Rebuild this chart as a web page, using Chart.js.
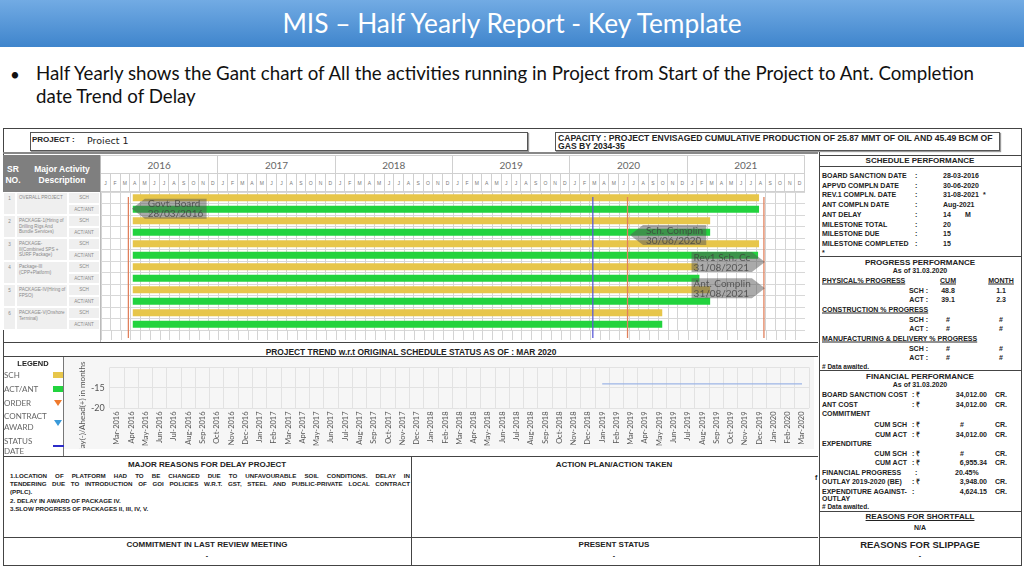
<!DOCTYPE html>
<html>
<head>
<meta charset="utf-8">
<script src="https://cdn.jsdelivr.net/npm/chart.js@4.4.0/dist/chart.umd.min.js"></script>
<style>
body { margin: 0; width: 1024px; height: 568px; overflow: hidden; background: #fff; font-family: "Liberation Sans", Arial, sans-serif; }
#page { position: relative; width: 1024px; height: 568px; }
.abs { position: absolute; box-sizing: border-box; }
.t { position: absolute; white-space: nowrap; line-height: 1; color: #222; }
.b7 { font-weight: bold; font-size: 7px; }
.b65 { font-weight: bold; font-size: 6.5px; }
.b8 { font-weight: bold; font-size: 8px; }
.u { text-decoration: underline; }
.ln { position: absolute; background: #444; }
#title { left: 0; top: 0; width: 1024px; height: 47px; background: linear-gradient(#72abe4, #3f85cc); color: #fff; font: 26.3px Lato, sans-serif; text-align: center; line-height: 47px; }
#bullet { left: 36px; top: 62px; width: 960px; font: 18.7px Lato, sans-serif; color: #111; line-height: 23px; }
.yr { position: absolute; top: 155px; height: 19px; border: 1px solid #d0d0d0; border-left: none; box-sizing: border-box; font: 10px Lato, sans-serif; color: #666; text-align: center; line-height: 18px; }
.mo { position: absolute; top: 174px; height: 18px; border-right: 1px solid #d0d0d0; border-bottom: 1px solid #d0d0d0; box-sizing: border-box; font: 5px "Liberation Sans", sans-serif; color: #777; text-align: center; line-height: 18px; }
.cell { position: absolute; background: #efefef; border: 1px solid #fff; box-sizing: border-box; color: #888; font-size: 4.6px; line-height: 5.6px; overflow: hidden; }
.lg { position: absolute; left: 4px; font: 8px Lato, sans-serif; color: #666; line-height: 1; transform: translateY(-50%); }
#ytitle { position: absolute; left: 0; top: 0; width: 88px; text-align: center; font: 8px Lato, sans-serif; color: #555; white-space: nowrap; line-height: 1; transform-origin: 0 0; }
</style>
</head>
<body>
<div id="page">
  <div id="title" class="abs">MIS – Half Yearly Report - Key Template</div>
  <div class="t" style="left:10px;top:74px;transform:translateY(-50%);font:17px Lato;color:#111;">•</div>
  <div id="bullet" class="abs">Half Yearly shows the Gant chart of All the activities running in Project from Start of the Project to Ant. Completion date Trend of Delay</div>

  <!-- report frame -->
  <div class="abs" style="left:3px;top:128px;width:1019px;height:438px;border:1px solid #444;"></div>
  <div class="abs" style="left:30px;top:132px;width:498px;height:19px;border:1px solid #555;box-shadow:1px 1px 1px #999;"></div>
  <div class="abs" style="left:555px;top:132px;width:445px;height:19px;border:1px solid #555;box-shadow:1px 1px 1px #999;"></div>
  <div class="ln" style="left:3px;top:152px;width:815px;height:2px;background:#888;"></div>

  <!-- gantt header -->
  <div class="abs" style="left:3px;top:155px;width:97px;height:37px;background:#7f7f7f;"></div>
  <div class="t" style="left:13px;top:169px;transform:translate(-50%,-50%);color:#fff;font-weight:bold;font-size:8.5px;">SR</div>
  <div class="t" style="left:13px;top:180px;transform:translate(-50%,-50%);color:#fff;font-weight:bold;font-size:8.5px;">NO.</div>
  <div class="t" style="left:62px;top:169px;transform:translate(-50%,-50%);color:#fff;font-weight:bold;font-size:8.5px;">Major Activity</div>
  <div class="t" style="left:62px;top:180px;transform:translate(-50%,-50%);color:#fff;font-weight:bold;font-size:8.5px;">Description</div>
  <div id="hdr"></div>
  <div id="rows"></div>

  <div class="abs" style="left:101px;top:192px;width:704px;height:148px;">
    <canvas id="gantt"></canvas>
  </div>
  <div class="ln" style="left:100px;top:155px;width:1px;height:187px;background:#bbb;"></div>

  <!-- trend -->
  <div class="ln" style="left:3px;top:342px;width:815px;height:1px;"></div>
  <div class="ln" style="left:3px;top:356px;width:815px;height:1px;"></div>
  <div class="abs" style="left:63px;top:357px;width:751px;height:92px;background:#f6f6f6;overflow:hidden;">
    <canvas id="trend"></canvas>
    <div id="ytitle">Delay(-)/Ahead(+) in months</div>
  </div>
  <div class="ln" style="left:63px;top:357px;width:1px;height:99px;background:#777;"></div>
  <div class="ln" style="left:3px;top:456px;width:815px;height:1px;"></div>

  <!-- legend -->
  <div class="t b7" style="left:33px;top:364px;transform:translate(-50%,-50%);font-size:7.5px;">LEGEND</div>
  <div class="lg" style="top:375px;">SCH</div>
  <div class="abs" style="left:53px;top:372px;width:10px;height:6px;background:#e7c64a;"></div>
  <div class="lg" style="top:389px;">ACT/ANT</div>
  <div class="abs" style="left:53px;top:386px;width:10px;height:6px;background:#22d33e;"></div>
  <div class="lg" style="top:403px;">ORDER</div>
  <div class="abs" style="left:54px;top:400px;width:0;height:0;border-left:4px solid transparent;border-right:4px solid transparent;border-top:6px solid #ef7a2c;"></div>
  <div class="lg" style="top:416px;">CONTRACT</div>
  <div class="lg" style="top:427px;">AWARD</div>
  <div class="abs" style="left:54px;top:420px;width:0;height:0;border-left:4px solid transparent;border-right:4px solid transparent;border-top:6px solid #3a9ad9;"></div>
  <div class="lg" style="top:441px;">STATUS</div>
  <div class="lg" style="top:451px;">DATE</div>
  <div class="abs" style="left:53px;top:445px;width:11px;height:2px;background:#2c2cc8;"></div>

  <!-- bottom -->
  <div class="ln" style="left:411px;top:456px;width:1px;height:110px;"></div>
  <div class="ln" style="left:3px;top:537px;width:815px;height:1px;"></div>
  <div id="reasons" class="abs" style="left:10px;top:472px;width:400px;font-weight:bold;font-size:6.2px;line-height:8.2px;color:#222;"></div>

  <!-- right panel -->
  <div class="ln" style="left:819px;top:152px;width:1px;height:414px;"></div>
  <div class="abs" style="left:819px;top:155px;width:203px;height:12px;border:1px solid #444;"></div>
  <div class="ln" style="left:819px;top:256px;width:203px;height:1px;"></div>
  <div class="ln" style="left:819px;top:370px;width:203px;height:1px;"></div>
  <div class="ln" style="left:819px;top:511px;width:203px;height:1px;"></div>
  <div class="ln" style="left:819px;top:537px;width:203px;height:1px;"></div>
</div>

<script>
// ---- chart data ----
const years = ['2016', '2017', '2018', '2019', '2020', '2021'];
const monthLetters = ['J', 'F', 'M', 'A', 'M', 'J', 'J', 'A', 'S', 'O', 'N', 'D'];
const packages = ['OVERALL PROJECT', 'PACKAGE-1(Hiring of Drilling Rigs And Bundle Services)',
  'PACKAGE-II(Combined SPS + SURF Package)', 'Package-III (CPP+Platform)',
  'PACKAGE-IV(Hiring of FPSO)', 'PACKAGE-V(Onshore Terminal)'];
// month index counted from Jan 2016 = 0
const schStart = [3.25, 3.25, 3.25, 3.25, 3.25, 3.25];
const schEnd = [67.3, 62.3, 67.3, 61.0, 62.3, 57.4];
const actStart = [3.25, 3.25, 3.25, 3.25, 3.25, 3.25];
const actEnd = [67.3, 62.3, 67.2, 61.2, 62.3, 57.4];
const markerMonths = [2.8, 50.3, 53.85, 67.8];
const markerColors = ['#e0805c', '#5b5bd8', '#e0805c', '#e0805c'];
const calloutText = [['Govt. Board', '28/03/2016'], ['Sch. Complin', '30/06/2020'], ['Rev1 Sch. Cc', '31/08/2021'], ['Ant. Complin', '31/08/2021']];
const calloutTip = [3.15, 54.1, 67.9, 67.9];
const calloutTail = [10.8, 61.9, 60.4, 60.4];
const calloutRow = [0.95, 3.24, 5.59, 7.87];

const trendLabels = ['Mar-2016', 'Apr-2016', 'May-2016', 'Jun-2016', 'Jul-2016', 'Aug-2016', 'Sep-2016', 'Oct-2016', 'Nov-2016', 'Dec-2016',
  'Jan-2017', 'Feb-2017', 'Mar-2017', 'Apr-2017', 'May-2017', 'Jun-2017', 'Jul-2017', 'Aug-2017', 'Sep-2017', 'Oct-2017', 'Nov-2017', 'Dec-2017',
  'Jan-2018', 'Feb-2018', 'Mar-2018', 'Apr-2018', 'May-2018', 'Jun-2018', 'Jul-2018', 'Aug-2018', 'Sep-2018', 'Oct-2018', 'Nov-2018', 'Dec-2018',
  'Jan-2019', 'Feb-2019', 'Mar-2019', 'Apr-2019', 'May-2019', 'Jun-2019', 'Jul-2019', 'Aug-2019', 'Sep-2019', 'Oct-2019', 'Nov-2019', 'Dec-2019',
  'Jan-2020', 'Feb-2020', 'Mar-2020'];
const trendDelay = [null, null, null, null, null, null, null, null, null, null,
  null, null, null, null, null, null, null, null, null, null, null, null,
  null, null, null, null, null, null, null, null, null, null, null, null,
  -14, -14, -14, -14, -14, -14, -14, -14, -14, -14, -14, -14,
  -14, -14, -14];
const trendTicks = [-20, -15];

const page = document.getElementById('page');
function put(x, y, s, cls, al) {
  const d = document.createElement('div');
  d.className = 't ' + (cls || '');
  d.textContent = s;
  d.style.left = x + 'px';
  d.style.top = y + 'px';
  d.style.transform = 'translate(' + (al === 'c' ? '-50%' : al === 'r' ? '-100%' : '0') + ',-50%)';
  page.appendChild(d);
  return d;
}

// year / month header
const hdr = document.getElementById('hdr');
const gx = 101, gw = 704, mw = gw / 72;
years.forEach((y, i) => {
  const d = document.createElement('div');
  d.className = 'yr';
  d.style.left = (gx + i * mw * 12) + 'px';
  d.style.width = (mw * 12) + 'px';
  d.textContent = y;
  hdr.appendChild(d);
  monthLetters.forEach((m, j) => {
    const c = document.createElement('div');
    c.className = 'mo';
    c.style.left = (gx + (i * 12 + j) * mw) + 'px';
    c.style.width = mw + 'px';
    c.textContent = m;
    hdr.appendChild(c);
  });
});

// left activity table
const rowsEl = document.getElementById('rows');
const rowH = 11.5;
packages.forEach((p, i) => {
  const top = 192 + i * rowH * 2;
  const mk = (l, t, w, h, txt, extra) => {
    const c = document.createElement('div');
    c.className = 'cell';
    c.style.cssText += `left:${l}px;top:${t}px;width:${w}px;height:${h}px;` + (extra || '');
    c.textContent = txt;
    rowsEl.appendChild(c);
  };
  mk(3, top, 13, rowH * 2, String(i + 1), 'text-align:center;padding-top:3px;');
  mk(16, top, 52, rowH * 2, p, 'padding:2px 1px 0 2px;');
  mk(68, top, 32, rowH, 'SCH', 'text-align:center;line-height:10px;');
  mk(68, top + rowH, 32, rowH, 'ACT/ANT', 'text-align:center;line-height:10px;');
});

// gantt chart
const rowLabels = [], schBars = [], actBars = [];
packages.forEach((p, i) => {
  rowLabels.push((i + 1) + ' SCH', (i + 1) + ' ACT/ANT');
  schBars.push([schStart[i], schEnd[i]], null);
  actBars.push(null, [actStart[i], actEnd[i]]);
});

const ganttMarks = {
  id: 'ganttMarks',
  beforeDatasetsDraw(chart) {
    const { ctx, chartArea, scales: { x } } = chart;
    ctx.save();
    ctx.strokeStyle = '#d4d4d4';
    ctx.lineWidth = 1;
    for (let m = 0; m <= 72; m++) {
      const px = Math.round(x.getPixelForValue(m)) + 0.5;
      ctx.beginPath();
      ctx.moveTo(px, chartArea.bottom);
      ctx.lineTo(px, chart.height);
      ctx.stroke();
    }
    ctx.restore();
  },
  afterDatasetsDraw(chart) {
    const { ctx, chartArea, scales: { x, y } } = chart;
    ctx.save();
    markerMonths.forEach((m, i) => {
      const px = x.getPixelForValue(m);
      ctx.strokeStyle = markerColors[i];
      ctx.lineWidth = 1.3;
      ctx.beginPath();
      ctx.moveTo(px, chartArea.top + 5);
      ctx.lineTo(px, chart.height - 2);
      ctx.stroke();
    });
    calloutText.forEach((lines, i) => {
      const xt = x.getPixelForValue(calloutTip[i]);
      const xb = x.getPixelForValue(calloutTail[i]);
      const yc = y.getPixelForValue(calloutRow[i]);
      const h = 20, dir = Math.sign(xb - xt), head = 13 * dir;
      ctx.fillStyle = 'rgba(85,85,85,0.5)';
      ctx.beginPath();
      ctx.moveTo(xt, yc);
      ctx.lineTo(xt + head, yc - h / 2);
      ctx.lineTo(xb, yc - h / 2);
      ctx.lineTo(xb, yc + h / 2);
      ctx.lineTo(xt + head, yc + h / 2);
      ctx.closePath();
      ctx.fill();
      ctx.fillStyle = 'rgba(60,60,60,0.75)';
      ctx.font = '10px Lato';
      ctx.textBaseline = 'middle';
      const tx = dir > 0 ? xt + 16 : xb + 2;
      ctx.fillText(lines[0], tx, yc - 4.5);
      ctx.fillText(lines[1], tx, yc + 5.5);
    });
    ctx.restore();
  }
};

new Chart(document.getElementById('gantt').getContext('2d'), {
  type: 'bar',
  data: {
    labels: rowLabels,
    datasets: [
      { label: 'SCH', data: schBars, backgroundColor: '#e7c64a', grouped: false, barPercentage: 0.62, categoryPercentage: 1 },
      { label: 'ACT/ANT', data: actBars, backgroundColor: '#22d33e', grouped: false, barPercentage: 0.62, categoryPercentage: 1 }
    ]
  },
  options: {
    indexAxis: 'y',
    responsive: true,
    maintainAspectRatio: false,
    animation: false,
    layout: { padding: { bottom: 10 } },
    plugins: { legend: { display: false }, tooltip: { enabled: false } },
    scales: {
      x: {
        type: 'linear', min: 0, max: 72,
        ticks: { display: false, stepSize: 1, maxTicksLimit: 100 },
        grid: { color: '#d4d4d4', drawTicks: false },
        border: { display: false }
      },
      y: {
        ticks: { display: false },
        grid: { color: '#d8d8d8', drawTicks: false, offset: true },
        border: { display: false }
      }
    }
  },
  plugins: [ganttMarks]
});

// trend chart
const trendChart = new Chart(document.getElementById('trend').getContext('2d'), {
  type: 'line',
  data: {
    labels: trendLabels,
    datasets: [{ label: 'Delay', data: trendDelay, borderColor: '#9db5e6', borderWidth: 1.2, pointRadius: 0, fill: false }]
  },
  options: {
    responsive: true,
    maintainAspectRatio: false,
    animation: false,
    layout: { padding: { top: 7, left: 23, right: 0, bottom: 0 } },
    plugins: { legend: { display: false }, tooltip: { enabled: false } },
    scales: {
      x: {
        offset: true,
        ticks: { autoSkip: false, maxRotation: 90, minRotation: 90, font: { family: 'Lato', size: 7.5 }, color: '#555', padding: 3 },
        grid: { color: '#e2e2e2', offset: true, drawTicks: false },
        border: { display: false }
      },
      y: {
        min: -20, max: -10,
        afterBuildTicks: s => { s.ticks = [-20, -15, -10].map(v => ({ value: v })); },
        ticks: { callback: v => trendTicks.includes(v) ? String(v) : '', font: { family: 'Lato', size: 9 }, color: '#555', padding: 5 },
        grid: { color: '#e2e2e2', drawTicks: false },
        border: { display: false }
      }
    }
  }
});
// axis title, placed beside the y scale and clipped by the plot box like the original
const yt = document.getElementById('ytitle');
const ya = trendChart.scales.y;
yt.style.transform = `translate(${ya.left - 8}px, ${trendChart.chartArea.bottom + 52}px) rotate(-90deg)`;

// texts of the report
put(32, 140, 'PROJECT :', 'b8');
put(87, 140, 'Proiect 1', '').style.cssText += 'font:9.5px "DejaVu Sans";color:#222;';
put(558, 138.3, 'CAPACITY : PROJECT ENVISAGED CUMULATIVE PRODUCTION OF 25.87 MMT OF OIL AND 45.49 BCM OF', 'b8').style.fontSize = '8.6px';
put(558, 145.6, 'GAS BY 2034-35', 'b8').style.fontSize = '8.6px';
put(411, 351.5, 'PROJECT TREND w.r.t ORIGINAL SCHEDULE STATUS AS OF : MAR 2020', 'b8', 'c').style.fontSize = '8.4px';

put(207, 465, 'MAJOR REASONS FOR DELAY PROJECT', 'b8', 'c');
put(614, 465, 'ACTION PLAN/ACTION TAKEN', 'b8', 'c');
put(815, 477, 'f', 'b7');
put(207, 545, 'COMMITMENT IN LAST REVIEW MEETING', 'b8', 'c');
put(207, 554.5, '-', 'b7', 'c');
put(614, 545, 'PRESENT STATUS', 'b8', 'c');
put(614, 554.5, '-', 'b7', 'c');
const reasonLines = ['1.LOCATION OF PLATFORM HAD TO BE CHANGED DUE TO UNFAVOURABLE SOIL CONDITIONS. DELAY IN',
  'TENDERING DUE TO INTRODUCTION OF GOI POLICIES W.R.T. GST, STEEL AND PUBLIC-PRIVATE LOCAL CONTRACT',
  '(PPLC).', '2. DELAY IN AWARD OF PACKAGE IV.', '3.SLOW PROGRESS OF PACKAGES II, III, IV, V.'];
const reasons = document.getElementById('reasons');
reasonLines.forEach((l, i) => {
  const d = document.createElement('div');
  d.textContent = l;
  d.style.whiteSpace = 'nowrap';
  if (i < 2) { d.style.textAlign = 'justify'; d.style.textAlignLast = 'justify'; d.style.whiteSpace = 'normal'; }
  reasons.appendChild(d);
});

// schedule performance
put(920, 161, 'SCHEDULE PERFORMANCE', 'b8', 'c');
const sched = [['BOARD SANCTION DATE', '28-03-2016'], ['APPVD COMPLN DATE', '30-06-2020'], ['REV.1 COMPLN. DATE', '31-08-2021'],
  ['ANT COMPLN DATE', 'Aug-2021'], ['ANT DELAY', '14'], ['MILESTONE TOTAL', '20'], ['MILESTONE DUE', '15'], ['MILESTONE COMPLETED', '15']];
const schedY = [175, 184.7, 194.2, 204, 213.7, 223.5, 233.2, 243];
sched.forEach((r, i) => {
  put(822, schedY[i], r[0], 'b7');
  put(915, schedY[i], ':', 'b7');
  put(943, schedY[i], r[1], 'b7');
});
put(983, 194, '*', 'b7');
put(965, 213.7, 'M', 'b7');
put(822, 252, '*', 'b7');

put(920, 263, 'PROGRESS PERFORMANCE', 'b8', 'c');
put(920, 270, 'As of 31.03.2020', 'b7', 'c');
put(822, 280, 'PHYSICAL% PROGRESS', 'b7 u');
put(948, 280, 'CUM', 'b7 u', 'c');
put(1001, 280, 'MONTH', 'b7 u', 'c');
const prog = [[289.5, '48.8', '1.1', 'SCH :'], [299, '39.1', '2.3', 'ACT :'], [318.5, '#', '#', 'SCH :'], [328, '#', '#', 'ACT :'],
  [347.5, '#', '#', 'SCH :'], [357, '#', '#', 'ACT :']];
prog.forEach(r => {
  put(928, r[0], r[3], 'b7', 'r');
  put(948, r[0], r[1], 'b7', 'c');
  put(1001, r[0], r[2], 'b7', 'c');
});
put(822, 309, 'CONSTRUCTION % PROGRESS', 'b7 u');
put(822, 338, 'MANUFACTURING & DELIVERY % PROGRESS', 'b7 u');
put(822, 366.5, '# Data awaited.', 'b65');

// financial performance
put(920, 377, 'FINANCIAL PERFORMANCE', 'b8', 'c');
put(920, 384, 'As of 31.03.2020', 'b7', 'c');
const fin = [
  [394, 'BOARD SANCTION COST', 'l', ': ₹', '34,012.00', 'CR.'],
  [404, 'ANT COST', 'l', ': ₹', '34,012.00', 'CR.'],
  [412.5, 'COMMITMENT', 'l', '', '', ''],
  [423.5, 'CUM SCH', 'r', ': ₹', '#', 'CR.'],
  [433.5, 'CUM ACT', 'r', ': ₹', '34,012.00', 'CR.'],
  [443, 'EXPENDITURE', 'l', '', '', ''],
  [452.5, 'CUM SCH', 'r', ': ₹', '#', 'CR.'],
  [462, 'CUM ACT', 'r', ': ₹', '6,955.34', 'CR.'],
  [481, 'OUTLAY 2019-2020 (BE)', 'l', ': ₹', '3,948.00', 'CR.'],
  [491, 'EXPENDITURE AGAINST-', 'l', ':', '4,624.15', 'CR.']
];
fin.forEach(r => {
  if (r[2] === 'l') put(822, r[0], r[1], 'b7'); else put(907, r[0], r[1], 'b7', 'r');
  if (r[3]) put(912, r[0], r[3], 'b7');
  if (r[4] === '#') put(962, r[0], '#', 'b7', 'c'); else if (r[4]) put(987, r[0], r[4], 'b7', 'r');
  if (r[5]) put(995, r[0], r[5], 'b7');
});
put(822, 472, 'FINANCIAL PROGRESS', 'b7');
put(915, 472, ':', 'b7');
put(955, 472, '20.45%', 'b7');
put(822, 498, 'OUTLAY', 'b7');
put(822, 507, '# Data awaited.', 'b65');
put(920, 517, 'REASONS FOR SHORTFALL', 'b8 u', 'c');
put(920, 527, 'N/A', 'b7', 'c');
put(920, 544.5, 'REASONS FOR SLIPPAGE', 'b8', 'c').style.fontSize = '9.5px';
put(920, 555, '-', 'b7', 'c');
</script>
</body>
</html>
